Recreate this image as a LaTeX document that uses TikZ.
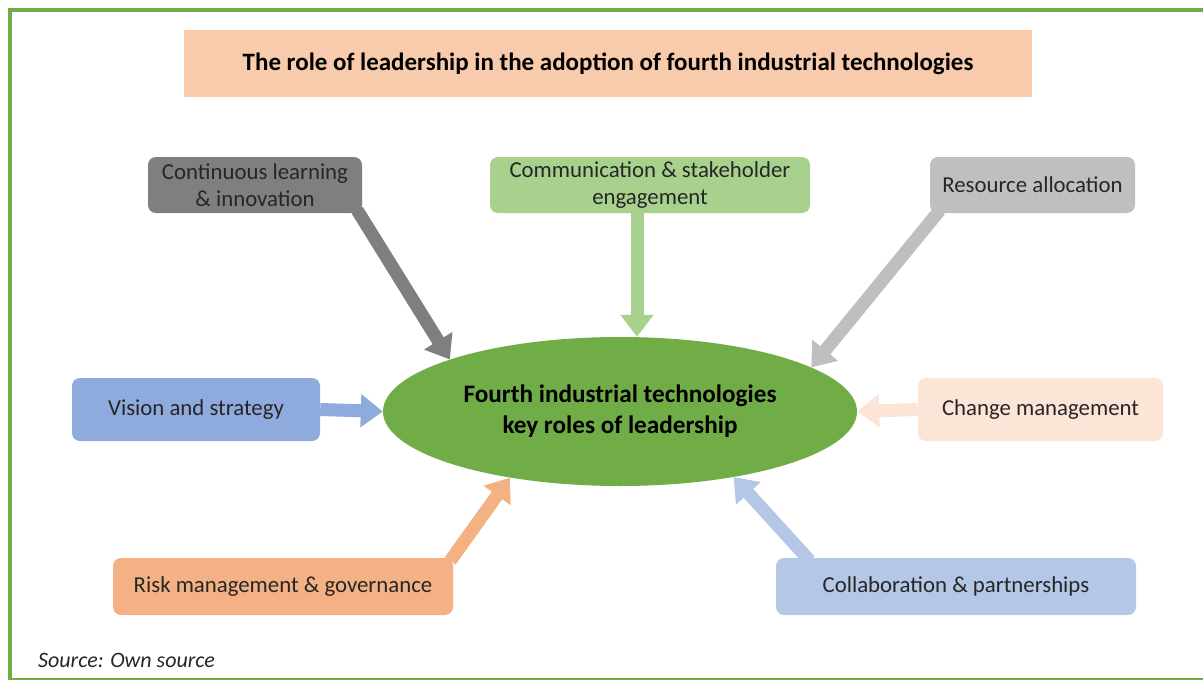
\documentclass[tikz,border=0pt]{standalone}
\usepackage{fontspec}
\setmainfont{Carlito}
\usepackage{xcolor}
\usepackage{tikz}
\usetikzlibrary{arrows.meta}
\usetikzlibrary{shapes.geometric}
\usetikzlibrary{positioning}

\definecolor{framec}{HTML}{70AD47}
\definecolor{titlec}{HTML}{F8CBAD}
\definecolor{contc}{HTML}{7F7F7F}
\definecolor{commc}{HTML}{A9D18E}
\definecolor{resc}{HTML}{BFBFBF}
\definecolor{visc}{HTML}{8FAADC}
\definecolor{chgc}{HTML}{FBE5D6}
\definecolor{riskc}{HTML}{F4B183}
\definecolor{collc}{HTML}{B4C7E7}
\definecolor{corec}{HTML}{70AD47}

\begin{document}
\begin{tikzpicture}[
    x = 1pt,
    y = -1pt,
    box/.style = {rounded corners=8pt, inner sep=0pt, align=center,
      text=black!85, font=\fontsize{22.8}{27}\selectfont},
    fat/.style = {line width=13pt, -{Triangle[width=32pt,length=22pt]}}]
  \useasboundingbox (0,0) rectangle (1203,680);
  \draw[framec, line width=4pt] (10,10) rectangle (1230,680);

  \node[fill=titlec, inner sep=0pt, minimum width=848pt, minimum height=67pt,
    font=\bfseries\fontsize{25}{30}\selectfont] (title) at (608,63.5)
    {The role of leadership in the adoption of fourth industrial technologies};

  \node[ellipse, fill=corec, inner sep=0pt, minimum width=474pt, minimum height=149pt,
    align=center, font=\bfseries\fontsize{25.2}{31}\selectfont] (core) at (620,411.5)
    {Fourth industrial technologies\\key roles of leadership};

  \node[box, fill=contc, minimum width=214pt, minimum height=56pt] (cont) at (255,185)
    {Continuous learning\\\& innovation};
  \node[box, fill=commc, minimum width=320pt, minimum height=56pt] (comm) at (650,185)
    {Communication \& stakeholder\\engagement};
  \node[box, fill=resc, minimum width=205pt, minimum height=56pt] (res) at (1032.5,185)
    {Resource allocation};
  \node[box, fill=visc, minimum width=248pt, minimum height=63pt] (vis) at (196,409.5)
    {Vision and strategy};
  \node[box, fill=chgc, minimum width=245pt, minimum height=63pt] (chg) at (1040.5,409.5)
    {Change management};
  \node[box, fill=riskc, minimum width=340pt, minimum height=57pt] (risk) at (283,586.5)
    {Risk management \& governance};
  \node[box, fill=collc, minimum width=360pt, minimum height=57pt] (coll) at (956,586.5)
    {Collaboration \& partnerships};

  \node[anchor=west, inner sep=0pt, text=black!85,
    font=\itshape\fontsize{22}{26}\selectfont] (src) at (38,660) {Source: Own source};

  \path[fat]
    ([xshift=-5pt, yshift=3pt]cont.south east) edge[draw=contc] (core.163)
    ([xshift=-13pt]comm.south) edge[draw=commc] ([xshift=17pt]core.north)
    ([xshift=10pt, yshift=3pt]res.south west) edge[draw=resc] (core.13)
    (vis.east) edge[draw=visc] (core.west)
    (chg.west) edge[draw=chgc] (core.east)
    ([xshift=-3pt, yshift=-3pt]risk.north east) edge[draw=riskc] (core.211)
    ([xshift=34pt, yshift=-3pt]coll.north west) edge[draw=collc] (core.330);
\end{tikzpicture}
\end{document}
